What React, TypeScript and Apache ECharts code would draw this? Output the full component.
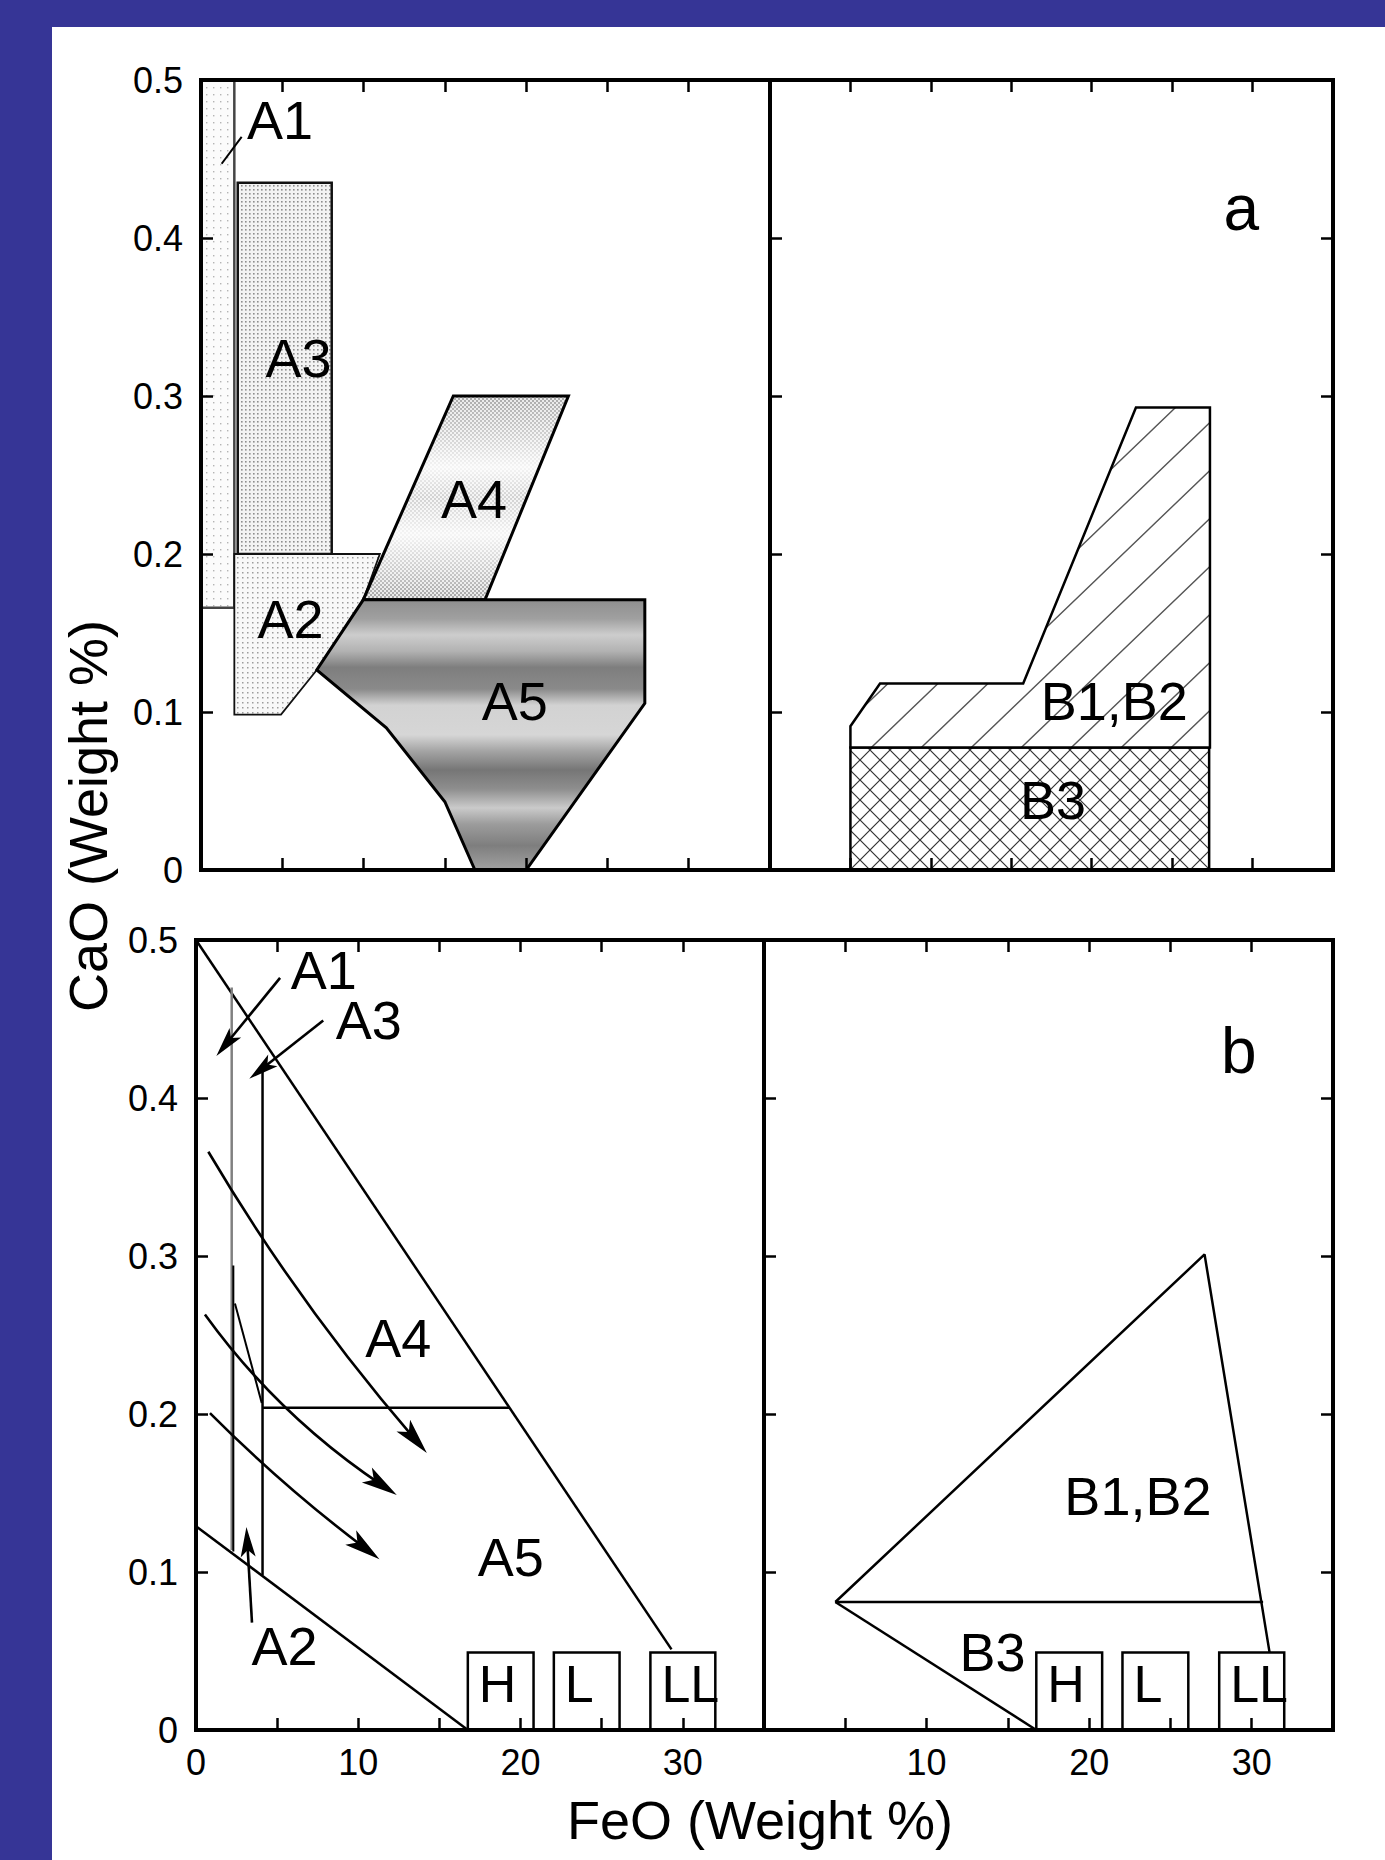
import React, { useEffect, useRef } from 'react';
import * as echarts from 'echarts';

const FONT = '"Liberation Sans", Arial, Helvetica, sans-serif';
const BLUE = '#363596';

// ---------- axes ----------
const X_MIN = 0;
const X_MAX = 35;
const X_STEP = 5;
const Y_MIN = 0;
const Y_MAX = 0.5;
const Y_STEP = 0.1;

// ---------- panel a, left (A regions) ----------
const a1Region = [[0, 0.5], [2.05, 0.5], [2.05, 0.166], [0, 0.166]];
const a3Region = [[2.26, 0.435], [8.04, 0.435], [8.04, 0.2], [2.26, 0.2]];
const a2Region = [[2.05, 0.2], [11.0, 0.2], [9.98, 0.171], [7.12, 0.1266], [4.92, 0.0983], [2.05, 0.0983]];
const a4Region = [[15.52, 0.3], [22.6, 0.3], [17.47, 0.171], [9.98, 0.171]];
const a5Region = [[9.98, 0.171], [27.3, 0.171], [27.3, 0.1055], [20.0, 0], [16.85, 0], [15.0, 0.0432], [11.4, 0.09], [7.12, 0.1266]];
const a1Leader = [[1.27, 0.447], [2.5, 0.464]];
const aLeftLabels = ['A1', 'A3', 'A2', 'A4', 'A5'];
const aLeftLabelX = [4.86, 6.0, 5.5, 16.8, 19.3];
const aLeftLabelY = [0.475, 0.324, 0.159, 0.235, 0.107];

// ---------- panel a, right (B regions) ----------
const b3Region = [[5.0, 0], [27.3, 0], [27.3, 0.0776], [5.0, 0.0776]];
const b12Region = [[5.0, 0.0776], [5.0, 0.091], [6.84, 0.118], [15.74, 0.118], [22.75, 0.2927], [27.35, 0.2927], [27.35, 0.0776]];
const aRightLabels = ['a', 'B1,B2', 'B3'];
const aRightLabelX = [29.3, 21.4, 17.6];
const aRightLabelY = [0.419, 0.107, 0.044];
const aRightLabelSize = [64, 54, 54];

// ---------- panel b, left ----------
const bLeftUpper = [[0, 0.5], [29.3, 0.051]];
const bLeftLower = [[0, 0.129], [16.75, 0]];
const bLeftDivider = [[4.1, 0.204], [19.3, 0.204]];
const bLeftA1Gray = [[2.2, 0.47], [2.2, 0.114]];
const bLeftA1Black = [[2.3, 0.294], [2.3, 0.113]];
const bLeftA3 = [[4.1, 0.418], [4.1, 0.098]];
const bLeftA2 = [[2.4, 0.27], [4.05, 0.207]];
const trendStart = [[0.76, 0.366], [0.55, 0.263], [0.86, 0.2006]];
const trendEnd = [[13.5, 0.184], [11.45, 0.155], [10.42, 0.115]];
const trendBend = [-0.045, -0.09, -0.035];
const pointerStart = [[5.18, 0.476], [7.84, 0.449], [3.45, 0.068]];
const pointerEnd = [[1.84, 0.434], [4.01, 0.418], [3.16, 0.119]];
const bLeftLabels = ['A1', 'A3', 'A4', 'A5', 'A2'];
const bLeftLabelX = [7.87, 10.65, 12.47, 19.4, 5.46];
const bLeftLabelY = [0.481, 0.4495, 0.248, 0.1095, 0.053];

// ---------- panel b, right ----------
const bRightOuter = [[4.39, 0.081], [27.1, 0.301], [31.1, 0.049]];
const bRightDivider = [[4.39, 0.081], [30.7, 0.081]];
const bRightLower = [[4.39, 0.081], [16.75, 0]];
const bRightLabels = ['b', 'B1,B2', 'B3'];
const bRightLabelX = [29.2, 23.0, 14.05];
const bRightLabelY = [0.43, 0.148, 0.0495];
const bRightLabelSize = [64, 54, 54];

// ---------- chondrite boxes ----------
const groups = ['H', 'L', 'LL'];
const groupMin = [16.75, 22.05, 28.0];
const groupMax = [20.8, 26.1, 32.0];
const groupTop = 0.049;
const groupLabelY = 0.029;

// ---------- layout ----------
const GRIDS = [
  { left: 201, top: 80, width: 569, height: 790 },
  { left: 770, top: 80, width: 563, height: 790 },
  { left: 196, top: 940, width: 568, height: 790 },
  { left: 764, top: 940, width: 569, height: 790 },
];

const svgPattern = (w: number, h: number, body: string) => ({
  image:
    'data:image/svg+xml;charset=utf-8,' +
    encodeURIComponent(
      `<svg xmlns="http://www.w3.org/2000/svg" width="${w}" height="${h}" viewBox="0 0 ${w} ${h}">${body}</svg>`
    ),
  repeat: 'repeat',
  imageWidth: w,
  imageHeight: h,
});

const A1_FILL = svgPattern(7, 7, '<rect width="7" height="7" fill="#fbfbfb"/><rect x="3" y="3" width="1.4" height="1.4" fill="#b4b4b4"/>');
const A3_FILL = svgPattern(4, 4, '<rect width="4" height="4" fill="#f3f3f3"/><rect x="1" y="1" width="1.6" height="1.6" fill="#8e8e8e"/>');
const A2_FILL = svgPattern(5, 5, '<rect width="5" height="5" fill="#f8f8f8"/><rect x="2" y="2" width="1.5" height="1.5" fill="#9c9c9c"/>');
const A4_FILL = svgPattern(4, 4, '<rect width="4" height="4" fill="#e6e6e6"/><rect width="2" height="2" fill="#9a9a9a"/><rect x="2" y="2" width="2" height="2" fill="#9a9a9a"/>');
const HATCH = svgPattern(50, 48, '<rect width="50" height="48" fill="#ffffff"/><path d="M0,48 L50,0 M-5,4.8 L5,-4.8 M45,52.8 L55,43.2" stroke="#555" stroke-width="1.4"/>');
const CROSS = svgPattern(20, 20, '<rect width="20" height="20" fill="#ffffff"/><path d="M0,0 L20,20 M20,0 L0,20" stroke="#333" stroke-width="1.2"/>');

const A4_GLOSS = new echarts.graphic.LinearGradient(0, 0, 0, 1, [
  { offset: 0, color: 'rgba(255,255,255,0.15)' },
  { offset: 0.2, color: 'rgba(255,255,255,0.55)' },
  { offset: 0.35, color: 'rgba(255,255,255,0.9)' },
  { offset: 0.5, color: 'rgba(255,255,255,0.55)' },
  { offset: 0.68, color: 'rgba(255,255,255,0.9)' },
  { offset: 0.85, color: 'rgba(255,255,255,0.5)' },
  { offset: 1, color: 'rgba(255,255,255,0.1)' },
]);
const A5_FILL = new echarts.graphic.LinearGradient(0, 0, 0, 1, [
  { offset: 0, color: '#8e8e8e' },
  { offset: 0.07, color: '#a0a0a0' },
  { offset: 0.13, color: '#cdcdcd' },
  { offset: 0.19, color: '#b2b2b2' },
  { offset: 0.25, color: '#7e7e7e' },
  { offset: 0.33, color: '#8a8a8a' },
  { offset: 0.39, color: '#d2d2d2' },
  { offset: 0.5, color: '#d6d6d6' },
  { offset: 0.56, color: '#a4a4a4' },
  { offset: 0.63, color: '#767676' },
  { offset: 0.7, color: '#8e8e8e' },
  { offset: 0.77, color: '#cacaca' },
  { offset: 0.83, color: '#9c9c9c' },
  { offset: 0.91, color: '#7e7e7e' },
  { offset: 1, color: '#a2a2a2' },
]);

const ARROW = 'path://M0,0 M30,30 M15,0 L22.5,30 L15,23 L7.5,30 Z';

type Pt = number[];

const regionSeries = (grid: number, pts: Pt[], fills: any[], stroke: string, lineWidth: number, z = 2) => ({
  type: 'custom',
  xAxisIndex: grid * 2,
  yAxisIndex: grid * 2,
  z,
  silent: true,
  data: pts,
  renderItem: (params: any, api: any) => {
    if (params.dataIndex !== 0) return { type: 'group', children: [] };
    const points = pts.map((p) => api.coord(p));
    return {
      type: 'group',
      children: fills.map((f, i) => ({
        type: 'polygon',
        shape: { points },
        style: {
          fill: f,
          stroke: i === fills.length - 1 ? stroke : 'none',
          lineWidth: i === fills.length - 1 ? lineWidth : 0,
          lineJoin: 'miter',
        },
      })),
    };
  },
});

const lineSeries = (grid: number, pts: Pt[], color = '#000', width = 2.5, z = 3) => ({
  type: 'line',
  xAxisIndex: grid * 2,
  yAxisIndex: grid * 2,
  data: pts,
  symbol: 'none',
  lineStyle: { color, width },
  silent: true,
  z,
});

const textSeries = (grid: number, names: string[], xs: number[], ys: number[], sizes: number[] | number, align = 'center') => ({
  type: 'custom',
  xAxisIndex: grid * 2,
  yAxisIndex: grid * 2,
  z: 6,
  silent: true,
  data: xs.map((x, i) => [x, ys[i]]),
  renderItem: (params: any, api: any) => {
    const p = api.coord([api.value(0), api.value(1)]);
    const size = Array.isArray(sizes) ? sizes[params.dataIndex] : sizes;
    return {
      type: 'text',
      x: p[0] + (align === 'left' ? 11 : 0),
      y: p[1],
      style: {
        text: names[params.dataIndex],
        fontSize: size,
        fontFamily: FONT,
        fill: '#000',
        align,
        verticalAlign: 'middle',
      },
    };
  },
});

const arrowSeries = (grid: number, starts: Pt[], ends: Pt[], bends: number[], size: number) => ({
  type: 'lines',
  coordinateSystem: 'cartesian2d',
  xAxisIndex: grid * 2,
  yAxisIndex: grid * 2,
  polyline: false,
  symbol: ['none', ARROW],
  symbolSize: size,
  z: 4,
  silent: true,
  itemStyle: { color: '#000' },
  lineStyle: { color: '#000', width: 2.6, opacity: 1, curveness: 0 },
  data: starts.map((s, i) => ({ coords: [s, ends[i]], lineStyle: { curveness: bends[i] } })),
});

const boxSeries = (grid: number) =>
  groups.map((_, i) =>
    regionSeries(
      grid,
      [[groupMin[i], 0], [groupMax[i], 0], [groupMax[i], groupTop], [groupMin[i], groupTop]],
      ['none'],
      '#000',
      2.5,
      4
    )
  );

function buildOption() {
  const xAxis: any[] = [];
  const yAxis: any[] = [];
  const tickStyle = { show: true, inside: true, length: 12, lineStyle: { color: '#000', width: 2.5 } };
  GRIDS.forEach((_, i) => {
    const bottomRow = i >= 2;
    const rightCol = i % 2 === 1;
    const base = {
      type: 'value',
      gridIndex: i,
      min: X_MIN,
      max: X_MAX,
      interval: X_STEP,
      axisLine: { show: false, onZero: false },
      splitLine: { show: false },
      axisTick: tickStyle,
      z: 6,
    };
    xAxis.push({
      ...base,
      position: 'bottom',
      axisLabel: {
        show: bottomRow,
        margin: 14,
        fontSize: 36,
        fontFamily: FONT,
        color: '#000',
        formatter: (v: number) => (v % 10 === 0 && v < X_MAX && !(rightCol && v === 0) ? String(v) : ''),
      },
    });
    xAxis.push({ ...base, position: 'top', axisLabel: { show: false } });
    const ybase = {
      type: 'value',
      gridIndex: i,
      min: Y_MIN,
      max: Y_MAX,
      interval: Y_STEP,
      axisLine: { show: false, onZero: false },
      splitLine: { show: false },
      axisTick: tickStyle,
      z: 6,
    };
    yAxis.push({
      ...ybase,
      position: 'left',
      axisLabel: {
        show: !rightCol,
        margin: 18,
        fontSize: 36,
        fontFamily: FONT,
        color: '#000',
        formatter: (v: number) => (v === 0 ? '0' : v.toFixed(1)),
      },
    });
    yAxis.push({ ...ybase, position: 'right', show: rightCol, axisLabel: { show: false } });
  });

  const series: any[] = [
    // panel a left
    regionSeries(0, a1Region, [A1_FILL], '#444', 2.5),
    regionSeries(0, a3Region, [A3_FILL], '#111', 2.5),
    regionSeries(0, a2Region, [A2_FILL], '#111', 1.8),
    regionSeries(0, a4Region, [A4_FILL, A4_GLOSS], '#000', 3),
    regionSeries(0, a5Region, [A5_FILL], '#000', 3),
    lineSeries(0, a1Leader, '#000', 2),
    textSeries(0, aLeftLabels, aLeftLabelX, aLeftLabelY, 54),
    // panel a right
    regionSeries(1, b3Region, [CROSS], '#000', 2.5),
    regionSeries(1, b12Region, [HATCH], '#000', 2.5),
    textSeries(1, aRightLabels, aRightLabelX, aRightLabelY, aRightLabelSize),
    // panel b left
    lineSeries(2, bLeftUpper),
    lineSeries(2, bLeftLower),
    lineSeries(2, bLeftDivider),
    lineSeries(2, bLeftA1Gray, '#808080', 2.5),
    lineSeries(2, bLeftA1Black, '#000', 2),
    lineSeries(2, bLeftA3, '#000', 2.5),
    lineSeries(2, bLeftA2, '#000', 2),
    arrowSeries(2, trendStart, trendEnd, trendBend, 36),
    arrowSeries(2, pointerStart, pointerEnd, [0, 0, 0], 30),
    ...boxSeries(2),
    textSeries(2, bLeftLabels, bLeftLabelX, bLeftLabelY, 54),
    textSeries(2, groups, groupMin, groups.map(() => groupLabelY), 52, 'left'),
    // panel b right
    lineSeries(3, bRightOuter),
    lineSeries(3, bRightDivider),
    lineSeries(3, bRightLower),
    ...boxSeries(3),
    textSeries(3, bRightLabels, bRightLabelX, bRightLabelY, bRightLabelSize),
    textSeries(3, groups, groupMin, groups.map(() => groupLabelY), 52, 'left'),
  ];

  return {
    animation: false,
    backgroundColor: 'transparent',
    grid: GRIDS.map((g) => ({
      ...g,
      show: true,
      borderColor: '#000',
      borderWidth: 4,
      backgroundColor: 'transparent',
      z: 8,
    })),
    xAxis,
    yAxis,
    series,
    graphic: [
      {
        type: 'text',
        x: 88,
        y: 816,
        rotation: Math.PI / 2,
        z: 10,
        style: {
          text: 'CaO (Weight %)',
          fontSize: 54,
          fontFamily: FONT,
          fill: '#000',
          align: 'center',
          verticalAlign: 'middle',
          textAlign: 'center',
          textVerticalAlign: 'middle',
        },
      },
      {
        type: 'text',
        x: 760,
        y: 1820,
        z: 10,
        style: {
          text: 'FeO (Weight %)',
          fontSize: 54,
          fontFamily: FONT,
          fill: '#000',
          align: 'center',
          verticalAlign: 'middle',
          textAlign: 'center',
          textVerticalAlign: 'middle',
        },
      },
    ],
  };
}

export default function App() {
  const ref = useRef<HTMLDivElement>(null);
  useEffect(() => {
    if (!ref.current) return;
    const chart = echarts.init(ref.current, undefined, { renderer: 'svg' });
    chart.setOption(buildOption() as any);
    return () => chart.dispose();
  }, []);
  return (
    <div style={{ position: 'absolute', left: 0, top: 0, width: 1385, height: 1860, background: BLUE, overflow: 'hidden' }}>
      <div style={{ position: 'absolute', left: 52, top: 27, right: 0, bottom: 0, background: '#ffffff' }} />
      <div ref={ref} style={{ position: 'absolute', left: 0, top: 0, width: 1385, height: 1860 }} />
    </div>
  );
}
